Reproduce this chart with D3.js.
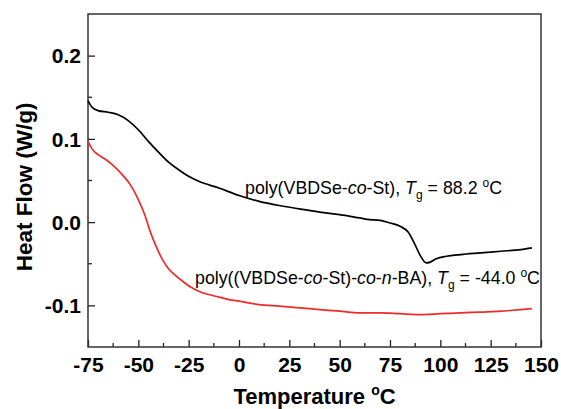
<!DOCTYPE html>
<html>
<head>
<meta charset="utf-8">
<script src="https://cdn.jsdelivr.net/npm/d3@7"></script>
<style>
  body { margin: 0; background: #fff; }
  svg { display: block; font-family: "Liberation Sans", Arial, sans-serif; }
</style>
</head>
<body>
<svg id="chart" width="561" height="409"></svg>
<script>
// temperature (C) and heat flow (W/g)
var blackT = [-75, -73, -70, -65, -60, -55, -50, -45, -40, -35, -30, -25, -20, -10, 0, 10, 20, 30, 40, 50, 60, 65, 70, 75, 80, 84, 87, 90, 93, 95, 98, 103, 110, 120, 130, 140, 145.5];
var blackHF = [0.146, 0.138, 0.134, 0.132, 0.129, 0.122, 0.111, 0.097, 0.084, 0.072, 0.063, 0.055, 0.049, 0.041, 0.032, 0.025, 0.020, 0.016, 0.012, 0.009, 0.005, 0.003, 0.002, -0.001, -0.005, -0.012, -0.025, -0.040, -0.049, -0.048, -0.044, -0.041, -0.039, -0.037, -0.035, -0.033, -0.031];

var redT = [-75, -73, -70, -66, -62, -58, -54, -50, -47, -44, -41, -38, -35, -32, -28, -24, -20, -15, -10, -5, 0, 10, 20, 30, 40, 50, 60, 70, 80, 90, 100, 110, 120, 130, 140, 145.5];
var redHF = [0.097, 0.088, 0.081, 0.075, 0.067, 0.057, 0.045, 0.027, 0.010, -0.012, -0.030, -0.045, -0.056, -0.063, -0.071, -0.078, -0.083, -0.087, -0.090, -0.093, -0.095, -0.099, -0.101, -0.103, -0.105, -0.107, -0.109, -0.109, -0.110, -0.111, -0.110, -0.109, -0.108, -0.107, -0.105, -0.104];

var xTicks = [-75, -50, -25, 0, 25, 50, 75, 100, 125, 150];
var yTicks = [-0.1, 0.0, 0.1, 0.2];

var svg = d3.select("#chart");
var plotL = 88, plotR = 541, plotT = 14, plotB = 347;

var x = d3.scaleLinear().domain([-75, 150]).range([plotL, plotR]);
var y = d3.scaleLinear().domain([-0.15, 0.25]).range([plotB, plotT]);

function pts(T, H) {
    return T.map(function (t, i) { return [t, H[i]]; });
}

var line = d3.line()
    .x(function (d) { return x(d[0]); })
    .y(function (d) { return y(d[1]); })
    .curve(d3.curveMonotoneX);

// minor ticks
var xMinor = d3.range(-62.5, 150, 25);
var yMinor = [-0.05, 0.05, 0.15];

// plain hyphen for negatives, like the original
var xAxis = d3.axisBottom(x).tickValues(xTicks).tickSize(-7)
    .tickFormat(function (d) { return String(d); });
var yAxis = d3.axisLeft(y).tickValues(yTicks).tickSize(-7)
    .tickFormat(function (d) { return d.toFixed(1); });

var gx = svg.append("g").attr("transform", "translate(0," + plotB + ")").call(xAxis);
var gy = svg.append("g").attr("transform", "translate(" + plotL + ",0)").call(yAxis);

[gx, gy].forEach(function (g) {
    g.select(".domain").remove();
    g.selectAll(".tick line").attr("stroke", "#222").attr("stroke-width", 1.3);
    g.selectAll(".tick text")
        .attr("fill", "#000")
        .style("font-family", "'Liberation Sans', Arial, sans-serif")
        .style("font-size", "21px")
        .style("font-weight", "bold");
});
gx.selectAll(".tick text").attr("y", 10).attr("dy", "0.71em");
gy.selectAll(".tick text").attr("x", -7).attr("dy", "0.35em");

svg.append("g").selectAll("line").data(xMinor).enter().append("line")
    .attr("x1", function (d) { return x(d); })
    .attr("x2", function (d) { return x(d); })
    .attr("y1", plotB).attr("y2", plotB - 4)
    .attr("stroke", "#222").attr("stroke-width", 1.3);

svg.append("g").selectAll("line").data(yMinor).enter().append("line")
    .attr("y1", function (d) { return y(d); })
    .attr("y2", function (d) { return y(d); })
    .attr("x1", plotL).attr("x2", plotL + 4)
    .attr("stroke", "#222").attr("stroke-width", 1.3);

// frame
svg.append("rect")
    .attr("x", plotL).attr("y", plotT)
    .attr("width", plotR - plotL).attr("height", plotB - plotT)
    .attr("fill", "none").attr("stroke", "#333").attr("stroke-width", 1.5);

svg.append("path").datum(pts(blackT, blackHF))
    .attr("d", line).attr("fill", "none")
    .attr("stroke", "#000").attr("stroke-width", 1.7);

svg.append("path").datum(pts(redT, redHF))
    .attr("d", line).attr("fill", "none")
    .attr("stroke", "#f02a2a").attr("stroke-width", 1.7);

// annotations
var lab1 = svg.append("text").attr("x", 245).attr("y", 194)
    .style("font-size", "17.8px").attr("fill", "#000");
lab1.append("tspan").text("poly(VBDSe-");
lab1.append("tspan").style("font-style", "italic").text("co");
lab1.append("tspan").text("-St), ");
lab1.append("tspan").style("font-style", "italic").text("T");
lab1.append("tspan").attr("dy", 5).style("font-size", "12px").text("g");
lab1.append("tspan").attr("dy", -5).text(" = 88.2 ");
lab1.append("tspan").attr("dy", -7).style("font-size", "12px").text("o");
lab1.append("tspan").attr("dy", 7).text("C");

var lab2 = svg.append("text").attr("x", 195).attr("y", 284)
    .style("font-size", "17.8px").attr("fill", "#000");
lab2.append("tspan").text("poly((VBDSe-");
lab2.append("tspan").style("font-style", "italic").text("co");
lab2.append("tspan").text("-St)-");
lab2.append("tspan").style("font-style", "italic").text("co");
lab2.append("tspan").text("-");
lab2.append("tspan").style("font-style", "italic").text("n");
lab2.append("tspan").text("-BA), ");
lab2.append("tspan").style("font-style", "italic").text("T");
lab2.append("tspan").attr("dy", 5).style("font-size", "12px").text("g");
lab2.append("tspan").attr("dy", -5).text(" = -44.0 ");
lab2.append("tspan").attr("dy", -7).style("font-size", "12px").text("o");
lab2.append("tspan").attr("dy", 7).text("C");

// axis titles
var xt = svg.append("text").attr("x", (plotL + plotR) / 2).attr("y", 404)
    .attr("text-anchor", "middle")
    .style("font-size", "22px").style("font-weight", "bold");
xt.append("tspan").text("Temperature ");
xt.append("tspan").attr("dy", -9).style("font-size", "14px").text("o");
xt.append("tspan").attr("dy", 9).text("C");

svg.append("text")
    .attr("transform", "translate(32,187) rotate(-90)")
    .attr("text-anchor", "middle")
    .style("font-size", "22.5px").style("font-weight", "bold")
    .text("Heat Flow (W/g)");
</script>
</body>
</html>
